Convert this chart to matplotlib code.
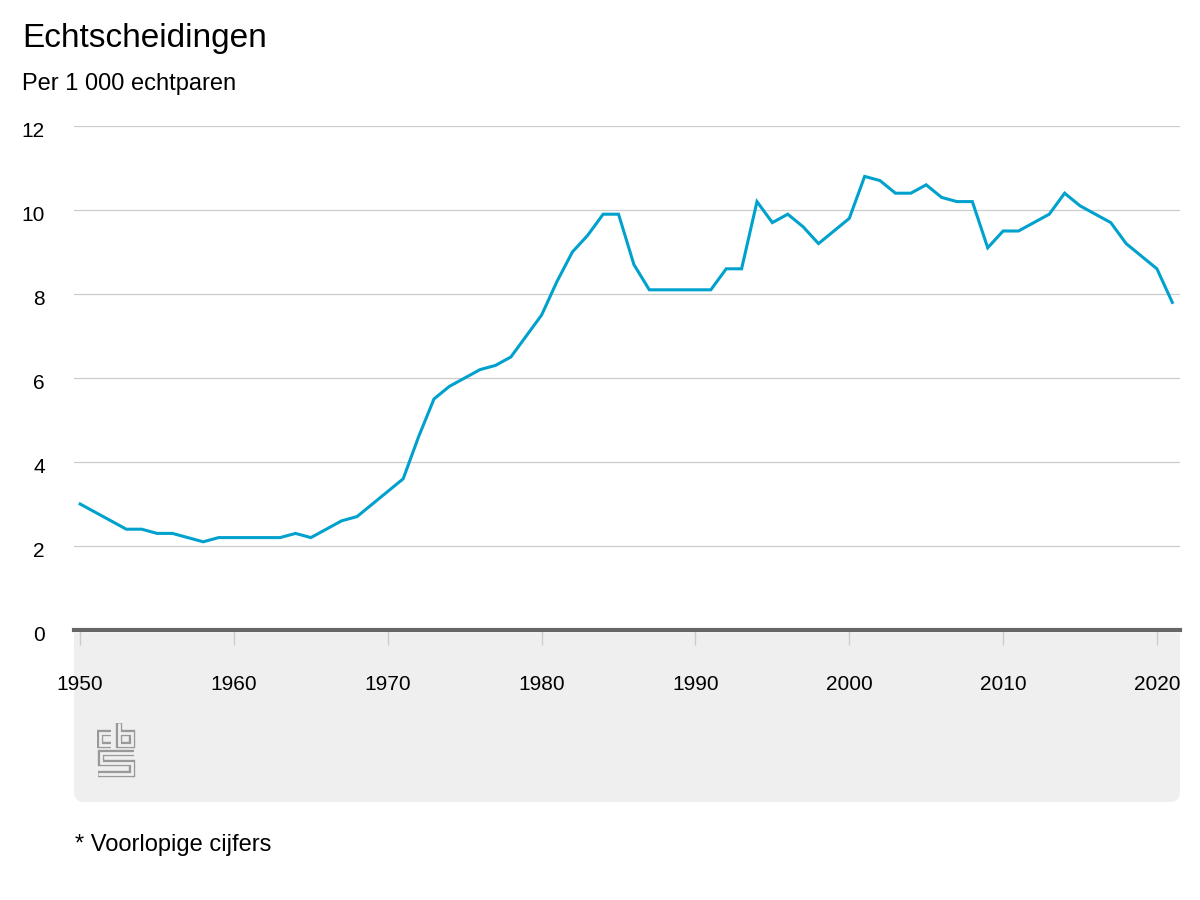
import matplotlib
matplotlib.use('Agg')
import matplotlib.pyplot as plt
from matplotlib.patches import FancyBboxPatch, Rectangle
from matplotlib.transforms import ScaledTranslation

plt.rcParams['font.family'] = ['Liberation Sans', 'DejaVu Sans']

years = list(range(1950, 2022))
divorces = [3.0, 2.8, 2.6, 2.4, 2.4, 2.3, 2.3, 2.2, 2.1, 2.2,
            2.2, 2.2, 2.2, 2.2, 2.3, 2.2, 2.4, 2.6, 2.7, 3.0,
            3.3, 3.6, 4.6, 5.5, 5.8, 6.0, 6.2, 6.3, 6.5, 7.0,
            7.5, 8.3, 9.0, 9.4, 9.9, 9.9, 8.7, 8.1, 8.1, 8.1,
            8.1, 8.1, 8.6, 8.6, 10.2, 9.7, 9.9, 9.6, 9.2, 9.5,
            9.8, 10.8, 10.7, 10.4, 10.4, 10.6, 10.3, 10.2, 10.2, 9.1,
            9.5, 9.5, 9.7, 9.9, 10.4, 10.1, 9.9, 9.7, 9.2, 8.9,
            8.6, 7.8]
x_ticks = [1950, 1960, 1970, 1980, 1990, 2000, 2010, 2020]
y_ticks = [0, 2, 4, 6, 8, 10, 12]

title = 'Echtscheidingen'
subtitle = 'Per 1 000 echtparen'
footnote = '* Voorlopige cijfers'

W, H = 1200, 900
fig = plt.figure(figsize=(12, 9), dpi=100)

# grey panel under the x axis, rounded at the bottom only
panel_x0, panel_x1 = 74 / W, 1180 / W
panel_top, panel_bot = 1 - 633 / H, 1 - 802 / H
panel = FancyBboxPatch((panel_x0, panel_bot), panel_x1 - panel_x0, panel_top - panel_bot,
                       boxstyle='round,pad=0,rounding_size=0.0085', mutation_aspect=W / H,
                       transform=fig.transFigure, facecolor='#efefef', edgecolor='none', zorder=-2)
fig.add_artist(panel)
fig.add_artist(Rectangle((panel_x0, panel_top - 0.03), panel_x1 - panel_x0, 0.03,
                         transform=fig.transFigure, facecolor='#efefef', edgecolor='none', zorder=-2))

ax = fig.add_axes([74 / W, 1 - 630 / H, 1106 / W, 504 / H])
ax.plot(years, divorces, color='#00a1cd', linewidth=2.2, solid_joinstyle='miter', zorder=3)

ax.set_xlim(1949.6, 2021.5)
ax.set_ylim(0, 12)
ax.set_yticks(y_ticks)
ax.set_xticks(x_ticks)
ax.grid(axis='y', color='#cccccc', linewidth=0.9)
ax.set_axisbelow(True)
for s in ['top', 'right', 'left']:
    ax.spines[s].set_visible(False)
ax.spines['bottom'].set_color('#666666')
ax.spines['bottom'].set_linewidth(3)
ax.spines['bottom'].set_zorder(4)

ax.tick_params(axis='y', length=0, pad=21, labelsize=15, labelcolor='black')
ax.tick_params(axis='x', length=11, width=1, color='#cccccc', pad=21.5, labelsize=15, labelcolor='black')
for lab in ax.get_yticklabels():
    lab.set_transform(lab.get_transform() + ScaledTranslation(0, -2.5 / 72, fig.dpi_scale_trans))

fig.text(22 / W, 1 - 23.5 / H, title, fontsize=24, va='top', ha='left')
fig.text(22 / W, 1 - 73 / H, subtitle, fontsize=17, va='top', ha='left')
fig.text(75 / W, 1 - 834 / H, footnote, fontsize=17, va='top', ha='left')

# small cbs logo
logo = fig.add_axes([96.7 / W, 1 - 778.3 / H, 40 / W, 58.3 / H])
logo.set_xlim(20, 140)
logo.set_ylim(205, 30)
logo.axis('off')
logo_paths = [
    ([62, 30, 30, 62], [70, 70, 105, 105]),
    ([87, 87, 126, 126, 87], [38, 105, 105, 70, 70]),
    ([133, 32, 32, 126, 126, 25], [128, 128, 160, 160, 192, 192]),
]
for px, py in logo_paths:
    logo.plot(px, py, color='#999999', linewidth=4.6, solid_joinstyle='miter', solid_capstyle='butt')
    logo.plot(px, py, color='#efefef', linewidth=2.0, solid_joinstyle='miter', solid_capstyle='butt')

fig.savefig('out.png', dpi=100)
